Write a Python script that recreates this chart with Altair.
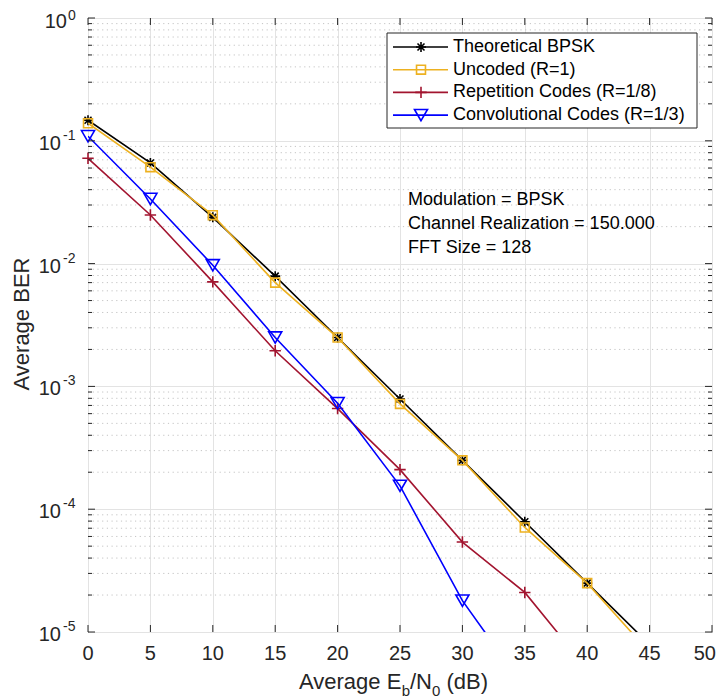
import altair as alt
import pandas as pd

# ---------------- data ----------------
ebn0 = [0, 5, 10, 15, 20, 25, 30, 35, 40, 45]
ber_theoretical = [0.147, 0.066, 0.0238, 0.0079, 0.0025, 0.00079, 0.00025, 0.000079, 0.000025, 0.0000079]
ber_uncoded = [0.139, 0.061, 0.0248, 0.0070, 0.0025, 0.00072, 0.00025, 0.000071, 0.000025, 0.0000068]

ebn0_rep = [0, 5, 10, 15, 20, 25, 30, 35, 40]
ber_repetition = [0.072, 0.0249, 0.0071, 0.00195, 0.00066, 0.00021, 0.000054, 0.000021, 0.0000050]

ebn0_conv = [0, 5, 10, 15, 20, 25, 30, 35]
ber_convolutional = [0.109, 0.0336, 0.0097, 0.0025, 0.00073, 0.000155, 0.000018, 0.0000035]

series_names = ["Theoretical BPSK", "Uncoded (R=1)", "Repetition Codes (R=1/8)", "Convolutional Codes (R=1/3)"]
series_colors = ["#000000", "#EDB120", "#A2142F", "#0000FF"]

x_ticks = [0, 5, 10, 15, 20, 25, 30, 35, 40, 45, 50]
decade_exponents = [0, -1, -2, -3, -4, -5]
annotation_lines = ["Modulation = BPSK", "Channel Realization = 150.000", "FFT Size = 128"]

# ---------------- styling ----------------
FONT = "Liberation Sans"
W, H = 624, 614
AX = "#262626"
ASTERISK = "M-1,0H1M0,-1V1M-0.7,-0.7L0.7,0.7M-0.7,0.7L0.7,-0.7"
PLUS = "M-1,0H1M0,-1V1"
series_shapes = [ASTERISK, "square", PLUS, "triangle-down"]
series_sizes = [100, 80, 130, 170]

decades = [10.0 ** e for e in decade_exponents]
minor_vals = [m * 10.0 ** e for e in range(-5, 0) for m in range(2, 10)]

xs = alt.Scale(domain=[0, 50], nice=False, zero=False)
ys = alt.Scale(type="log", domain=[1e-5, 1], nice=False)
xaxis = alt.Axis(values=x_ticks, grid=True, gridColor="#e3e3e3", gridWidth=1, ticks=False,
                 domain=False, labels=False, title=None)
yaxis = alt.Axis(values=decades, grid=True, gridColor="#e3e3e3", gridWidth=1, ticks=False,
                 domain=False, labels=False, title=None)


def X(f):
    return alt.X(f, type="quantitative", scale=xs, axis=xaxis)


def Y(f):
    return alt.Y(f, type="quantitative", scale=ys, axis=yaxis)


layers = []

# minor dotted grid
df_minor = pd.DataFrame({"v": minor_vals})
layers.append(alt.Chart(df_minor).mark_rule(color="#c4c4c4", strokeWidth=1, strokeDash=[1.2, 3.5])
              .encode(y=Y("v"), x=alt.value(0), x2=alt.value(W)))

# data series
series_data = [
    (ebn0, ber_theoretical),
    (ebn0, ber_uncoded),
    (ebn0_rep, ber_repetition),
    (ebn0_conv, ber_convolutional),
]
for name, color, shape, size, (xv, yv) in zip(series_names, series_colors, series_shapes, series_sizes, series_data):
    df = pd.DataFrame({"ebn0": xv, "ber": yv, "series": name})
    base = alt.Chart(df)
    layers.append(base.mark_line(color=color, strokeWidth=1.6, clip=True).encode(x=X("ebn0"), y=Y("ber")))
    layers.append(base.mark_point(color=color, shape=shape, size=size, filled=False, strokeWidth=1.6, opacity=1)
                  .transform_filter("datum.ber >= 1e-5")
                  .encode(x=X("ebn0"), y=Y("ber")))

# inward ticks
df_xt = pd.DataFrame({"t": x_ticks})
layers.append(alt.Chart(df_xt).mark_rule(color=AX, strokeWidth=1).encode(x=X("t"), y=alt.value(H), y2=alt.value(H - 7)))
layers.append(alt.Chart(df_xt).mark_rule(color=AX, strokeWidth=1).encode(x=X("t"), y=alt.value(0), y2=alt.value(7)))
df_dec = pd.DataFrame({"v": decades, "e": [str(e) for e in decade_exponents]})
layers.append(alt.Chart(df_dec).mark_rule(color=AX, strokeWidth=1).encode(y=Y("v"), x=alt.value(0), x2=alt.value(7)))
layers.append(alt.Chart(df_dec).mark_rule(color=AX, strokeWidth=1).encode(y=Y("v"), x=alt.value(W - 7), x2=alt.value(W)))
layers.append(alt.Chart(df_minor).mark_rule(color=AX, strokeWidth=1).encode(y=Y("v"), x=alt.value(0), x2=alt.value(4)))
layers.append(alt.Chart(df_minor).mark_rule(color=AX, strokeWidth=1).encode(y=Y("v"), x=alt.value(W - 4), x2=alt.value(W)))

# x tick labels (last one nudged inside the canvas)
xt_chart = alt.Chart(df_xt)
layers.append(xt_chart.transform_filter("datum.t < 50")
              .mark_text(align="center", baseline="middle", fontSize=20, color=AX)
              .encode(x=X("t"), y=alt.value(H + 22), text=alt.Text("t:Q", format="d")))
layers.append(xt_chart.transform_filter("datum.t == 50")
              .mark_text(align="right", baseline="middle", fontSize=20, color=AX, dx=4)
              .encode(x=X("t"), y=alt.value(H + 22), text=alt.Text("t:Q", format="d")))

# y tick labels 10^e
dec_chart = alt.Chart(df_dec)
layers.append(dec_chart.transform_filter("datum.e != '0'")
              .mark_text(align="right", baseline="middle", fontSize=20, color=AX, dy=3)
              .encode(y=Y("v"), x=alt.value(-27), text=alt.value("10")))
layers.append(dec_chart.transform_filter("datum.e == '0'")
              .mark_text(align="right", baseline="middle", fontSize=20, color=AX, dy=4)
              .encode(y=Y("v"), x=alt.value(-21), text=alt.value("10")))
layers.append(dec_chart.transform_filter("datum.e != '0'")
              .mark_text(align="left", baseline="middle", fontSize=14, color=AX, dy=-5)
              .encode(y=Y("v"), x=alt.value(-25), text="e:N"))
layers.append(dec_chart.transform_filter("datum.e == '0'")
              .mark_text(align="left", baseline="middle", fontSize=14, color=AX, dy=-2)
              .encode(y=Y("v"), x=alt.value(-20), text="e:N"))

# axis titles
one = pd.DataFrame({"k": [0]})
layers.append(alt.Chart(one).mark_text(angle=270, align="center", baseline="middle", fontSize=22, color=AX)
              .encode(x=alt.value(-66), y=alt.value(306), text=alt.value("Average BER")))
title_pieces = [("Average E", 211.0, 22, 0), ("b", 313.7, 15, 7), ("/N", 322.0, 22, 0),
                ("0", 344.0, 15, 7), ("(dB)", 358.5, 22, 0)]
for txt, px, fs, dy in title_pieces:
    layers.append(alt.Chart(one).mark_text(align="left", baseline="alphabetic", fontSize=fs, color=AX, dy=dy)
                  .encode(x=alt.value(px), y=alt.value(671), text=alt.value(txt)))

# annotation text
for i, line in enumerate(annotation_lines):
    layers.append(alt.Chart(one).mark_text(align="left", baseline="middle", fontSize=18, color="#000000")
                  .encode(x=alt.value(320), y=alt.value(182 + 24 * i), text=alt.value(line)))

# legend
layers.append(alt.Chart(one).mark_rect(fill="white", stroke=AX, strokeWidth=1)
              .encode(x=alt.value(299), x2=alt.value(609), y=alt.value(15), y2=alt.value(110)))
for i, (name, color, shape, size) in enumerate(zip(series_names, series_colors, series_shapes, series_sizes)):
    ry = 29 + 22.7 * i
    layers.append(alt.Chart(one).mark_rule(color=color, strokeWidth=1.6)
                  .encode(x=alt.value(305), x2=alt.value(360), y=alt.value(ry)))
    layers.append(alt.Chart(one).mark_point(color=color, shape=shape, size=size, filled=False, strokeWidth=1.6, opacity=1)
                  .encode(x=alt.value(333), y=alt.value(ry)))
    layers.append(alt.Chart(one).mark_text(align="left", baseline="middle", fontSize=18, color="#000000")
                  .encode(x=alt.value(365), y=alt.value(ry), text=alt.value(name)))

chart = (
    alt.layer(*layers)
    .properties(width=W, height=H, padding={"left": 80, "top": 10, "right": 4, "bottom": 68},
                autosize=alt.AutoSizeParams(type="none"), background="white")
    .configure(font=FONT)
    .configure_view(stroke=AX, strokeWidth=1)
)

chart.save("out.html", embed_options={"renderer": "svg", "actions": False})
